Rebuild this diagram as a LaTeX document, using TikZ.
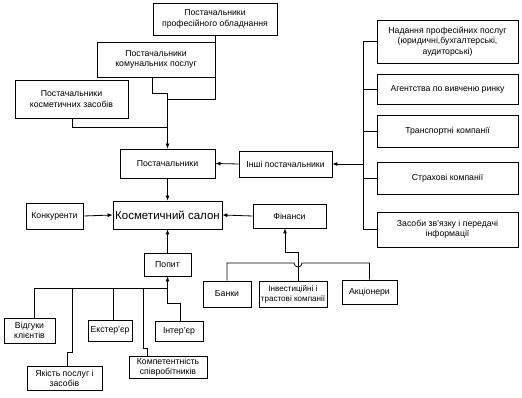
\documentclass[tikz,border=0pt]{standalone}
\usepackage{fontspec}
\setmainfont{Liberation Sans}
\usetikzlibrary{arrows.meta,calc}
\begin{document}
\begin{tikzpicture}[x=1pt,y=-1pt,
  box/.style={draw,line width=0.8pt,align=center,inner sep=0pt,font=\fontsize{8.7}{10.2}\selectfont},
  ln/.style={line width=0.8pt},
  arr/.style={line width=0.8pt,-{Latex[length=5pt,width=4pt]}}]
\useasboundingbox (0,0) rectangle (522,398);
% top suppliers
\node[box,minimum width=124pt,minimum height=32pt] (prof) at (215,19) {Постачальники\\професійного обладнання};
\node[box,minimum width=118pt,minimum height=35pt] (komun) at (156,59.5) {Постачальники\\комунальних послуг};
\node[box,minimum width=113pt,minimum height=38pt] (kosm) at (71.5,99) {Постачальники\\косметичних засобів};
\node[box,minimum width=95pt,minimum height=29pt] (post) at (167.5,163.5) {Постачальники};
\node[box,minimum width=109pt,minimum height=28pt,font=\fontsize{11.5}{13}\selectfont] (salon) at (167.5,215) {Косметичний салон};
\node[box,minimum width=57pt,minimum height=26pt] (konk) at (54.5,216) {Конкуренти};
\node[box,minimum width=47pt,minimum height=23pt] (popyt) at (167.5,264.5) {Попит};
\node[box,minimum width=93pt,minimum height=26pt] (inshi) at (285.5,164) {Інші постачальники};
\node[box,minimum width=73pt,minimum height=24pt] (fin) at (289.5,216) {Фінанси};
% right column
\node[box,minimum width=141pt,minimum height=43pt] (r1) at (447.5,41.5) {Надання професійних послуг\\(юридичні,бухгалтерські,\\аудиторські)};
\node[box,minimum width=141pt,minimum height=30pt] (r2) at (447.5,89) {Агентства по вивченю ринку};
\node[box,minimum width=141pt,minimum height=32pt] (r3) at (447.5,131) {Транспортні компанії};
\node[box,minimum width=141pt,minimum height=32pt] (r4) at (447.5,178) {Страхові компанії};
\node[box,minimum width=141pt,minimum height=35pt] (r5) at (447.5,229.5) {Засоби зв'язку і передачі\\інформації};
% finance subtree
\node[box,minimum width=48pt,minimum height=26pt] (banky) at (227,294) {Банки};
\node[box,minimum width=68pt,minimum height=26pt,font=\fontsize{8.1}{10}\selectfont] (invest) at (293,294) {Інвестиційні і\\трастові компанії};
\node[box,minimum width=55pt,minimum height=24pt] (akts) at (369.5,292) {Акціонери};
% demand subtree
\node[box,minimum width=51pt,minimum height=25pt] (vidh) at (29.5,330.5) {Відгуки\\клієнтів};
\node[box,minimum width=75pt,minimum height=24pt] (yak) at (64.5,378) {Якість послуг і\\засобів};
\node[box,minimum width=44pt,minimum height=21pt] (ekst) at (110,330.5) {Екстер'єр};
\node[box,minimum width=48pt,minimum height=20pt] (inter) at (179,331) {Інтер'єр};
\node[box,minimum width=78pt,minimum height=22pt] (komp) at (168,367) {Компетентність\\співробітників};
% coordinates
\coordinate (j1) at (167.5,93);
\coordinate (hopL) at (294,263);
% top connectors
\draw[ln] (prof.south -| 215,0) |- (167.5,99);
\draw[ln] (komun.south -| 152,0) |- (j1);
\draw[ln] (kosm.south -| 72,0) |- (167.5,127);
\draw[arr] (j1) -- (post.north);
\draw[arr] (inshi.west) -- (post.east);
\draw[arr] (post.south) -- (salon.north);
\draw[arr] (konk.east) -- (salon.west);
\draw[arr] (fin.west) -- (salon.east);
\draw[arr] (popyt.north) -- (salon.south);
% right bracket
\coordinate (bt) at (363,41.5);
\coordinate (bb) at (363,229.5);
\draw[ln] (r1.west) -- (bt) -- (bb) -- (r5.west);
\draw[ln] (r2.west) -- (363,89);
\draw[ln] (r3.west) -- (363,131);
\draw[ln] (r4.west) -- (363,178);
\draw[arr] (363,164) -- (inshi.east);
% finance subtree
\draw[arr] (invest.north -| 298,0) -- (298,252) -- (285,252) -- (fin.south -| 285,0);
\draw[ln] (banky.north) -- (227,263) -- (hopL) arc[start angle=180,end angle=0,radius=4] -- (369.5,263) -- (akts.north);
% demand subtree
\coordinate (pj) at (167.5,303);
\draw[arr] (inter.north -| 180,0) -- (180,303) -- (pj) -- (popyt.south);
\draw[ln] (vidh.north -| 34,0) -- (34,288) -- (167.5,288);
\draw[ln] (ekst.north -| 113,0) -- (113,288);
\draw[ln] (yak.north -| 67,0) -- (67,352) -- (72,352) -- (72,288);
\draw[ln] (komp.north -| 147,0) -- (147,348) -- (143,348) -- (143,288);
\end{tikzpicture}
\end{document}
